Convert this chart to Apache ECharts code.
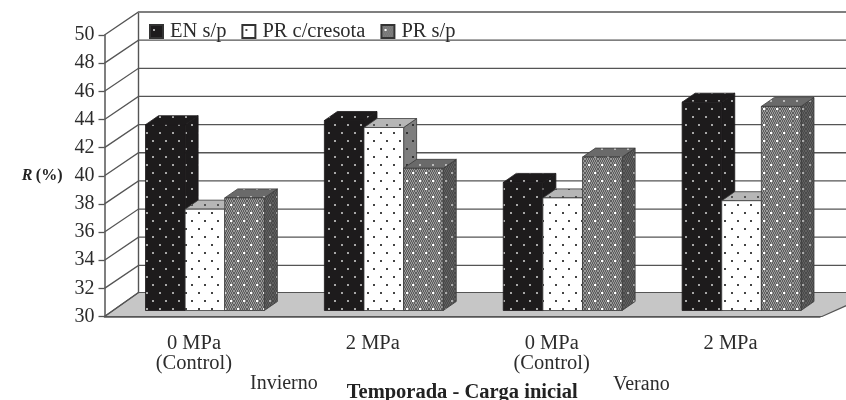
<!DOCTYPE html>
<html>
<head>
<meta charset="utf-8">
<style>html,body{margin:0;padding:0;background:#fff}#c{width:846px;height:400px;filter:blur(0.4px)}</style>
<script src="https://cdn.jsdelivr.net/npm/echarts@6/dist/echarts.min.js"></script>
</head>
<body>
<div id="c"></div>
<script>
const categories = ['0 MPa\n(Control)', '2 MPa', '0 MPa\n(Control)', '2 MPa'];
const enSp = [43.2, 43.5, 39.1, 44.8];
const prCres = [37.2, 43.0, 38.0, 37.8];
const prSp = [38.0, 40.1, 40.9, 44.5];
const seriesNames = ['EN s/p', 'PR c/cresota', 'PR s/p'];
const yTicks = [30, 32, 34, 36, 38, 40, 42, 44, 46, 48, 50];
const seasonLabels = ['Invierno', 'Verano'];
const xTitle = 'Temporada - Carga inicial';

const SERIF = '"Liberation Serif", serif';
const TEXT = '#2c2c2c';
const LINE = '#555';

function tile(bg, dot, checker) {
  const c = document.createElement('canvas');
  c.width = 13; c.height = 16;
  const g = c.getContext('2d');
  g.fillStyle = bg; g.fillRect(0, 0, 13, 16);
  if (checker) {
    g.fillStyle = checker;
    for (let y = 0; y < 16; y += 2) for (let x = 0; x < 13; x++)
      if (x % 2 === (y / 2) % 2) g.fillRect(x, y, 1, 2);
  }
  g.fillStyle = dot;
  g.fillRect(3, 4, 2, 2);
  g.fillRect(9, 12, 2, 2);
  return { image: c, repeat: 'repeat' };
}

const faces = [
  { front: tile('#1d1b1c', '#a8a8a8'), top: tile('#1d1b1c', '#a8a8a8'), side: tile('#1d1b1c', '#a8a8a8'), edge: '#1d1b1c' },
  { front: tile('#ffffff', '#444444'), top: tile('#b6b6b6', '#555555'), side: tile('#7e7e7e', '#333333'), edge: '#3a3a3a' },
  { front: tile('#9a9a9a', '#ffffff', '#5c5c5c'), top: tile('#6a6a6a', '#bbbbbb'), side: tile('#5f5f5f', '#aaaaaa', '#4a4a4a'), edge: '#3a3a3a' }
];

// pseudo-3D projection constants (px)
const WALL_DX = 34, WALL_DY = 23;
const LIFT_DX = 11, LIFT_DY = 6;
const BAR_DX = 13, BAR_DY = 9;
const BAR_FRACTION = 0.2215;

function renderWalls(params, api) {
  const cs = params.coordSys;
  const v = api.value(0);
  const y = api.coord([0, v])[1];
  const x0 = cs.x, bx = x0 + WALL_DX;
  const children = [];
  if (v === yTicks[0]) {
    const by = y - WALL_DY - 1;
    children.push({
      type: 'polygon', z2: 0,
      shape: { points: [[x0, y], [bx, by], [cs.x + cs.width + 40, by], [cs.x + cs.width + 40, by + 7], [cs.x + cs.width + 2, y]] },
      style: { fill: '#c6c6c6', stroke: LINE, lineWidth: 1.2 }
    });
    const top = api.coord([0, yTicks[yTicks.length - 1]])[1] - WALL_DY + 1;
    children.push({
      type: 'line', z2: 1,
      shape: { x1: bx, y1: by, x2: bx, y2: top },
      style: { stroke: LINE, lineWidth: 1.4 }
    });
    children.push({
      type: 'line', z2: 1,
      shape: { x1: x0, y1: y, x2: bx, y2: by },
      style: { stroke: LINE, lineWidth: 1.2 }
    });
  } else {
    children.push({
      type: 'polyline', z2: 1,
      shape: { points: [[x0, y], [bx, y - WALL_DY], [cs.x + cs.width + 40, y - WALL_DY]] },
      style: { fill: 'none', stroke: LINE, lineWidth: 1.3 }
    });
  }
  return { type: 'group', children };
}

function barRenderer(seriesIdx) {
  return function (params, api) {
    const cat = api.value(0), val = api.value(1);
    const w = api.size([1, 0])[0] * BAR_FRACTION;
    const cx = api.coord([cat, val])[0] + LIFT_DX;
    const x = cx - 1.5 * w + seriesIdx * w;
    const yT = api.coord([cat, val])[1] - LIFT_DY;
    const yB = api.coord([cat, yTicks[0]])[1] - LIFT_DY;
    const f = faces[seriesIdx];
    const edge = { stroke: f.edge, lineWidth: 0.8 };
    return {
      type: 'group',
      children: [
        { type: 'polygon', shape: { points: [[x + w, yT], [x + w + BAR_DX, yT - BAR_DY], [x + w + BAR_DX, yB - BAR_DY], [x + w, yB]] }, style: Object.assign({ fill: f.side }, edge) },
        { type: 'polygon', shape: { points: [[x, yT], [x + BAR_DX, yT - BAR_DY], [x + w + BAR_DX, yT - BAR_DY], [x + w, yT]] }, style: Object.assign({ fill: f.top }, edge) },
        { type: 'rect', shape: { x: x, y: yT, width: w, height: yB - yT }, style: Object.assign({ fill: f.front }, edge) }
      ]
    };
  };
}

const barSeries = [enSp, prCres, prSp].map((vals, i) => ({
  type: 'custom',
  name: seriesNames[i],
  silent: true,
  z: 3,
  itemStyle: { color: faces[i].front, borderColor: '#333', borderWidth: 1 },
  data: vals.map((v, k) => [k, v]),
  encode: { x: 0, y: 1 },
  renderItem: barRenderer(i)
}));

const chart = echarts.init(document.getElementById('c'), null, { renderer: 'canvas' });
chart.setOption({
  animation: false,
  backgroundColor: '#fff',
  grid: { left: 104.5, right: 26, top: 35, bottom: 83.5, containLabel: false, outerBoundsMode: 'none' },
  legend: {
    left: 149, top: 21, itemWidth: 13, itemHeight: 13, itemGap: 15,
    padding: 0,
    data: seriesNames.map(n => ({ name: n, icon: 'rect' })),
    textStyle: { fontFamily: SERIF, fontSize: 20.5, color: TEXT, padding: [0, 0, 0, 2] }
  },
  xAxis: {
    type: 'category', data: categories,
    axisLine: { lineStyle: { color: LINE, width: 1.5 } },
    axisTick: { show: false },
    axisLabel: { fontFamily: SERIF, fontSize: 20.5, color: TEXT, lineHeight: 20, margin: 17, interval: 0 },
    name: xTitle, nameLocation: 'middle', nameGap: 66,
    nameTextStyle: { fontFamily: SERIF, fontSize: 20.5, fontWeight: 'bold', color: '#222' }
  },
  yAxis: {
    type: 'value', min: 30, max: 50, interval: 2,
    axisLine: { show: true, lineStyle: { color: LINE, width: 1.5 } },
    axisTick: { show: true, length: 6, lineStyle: { color: LINE, width: 1.3 } },
    axisLabel: { fontFamily: SERIF, fontSize: 20, color: TEXT, margin: 10, formatter: v => String(v) },
    splitLine: { show: false },
    name: '{i|R} {b|(%)}', nameLocation: 'middle', nameRotate: 0, nameGap: 42,
    nameTextStyle: {
      rich: {
        i: { fontFamily: SERIF, fontSize: 16, fontWeight: 'bold', fontStyle: 'italic', color: '#222' },
        b: { fontFamily: SERIF, fontSize: 16, fontWeight: 'bold', color: '#222' }
      }
    }
  },
  graphic: [
    { type: 'text', left: 250, top: 374, style: { text: seasonLabels[0], font: '20px ' + SERIF, fill: TEXT } },
    { type: 'text', left: 613, top: 375, style: { text: seasonLabels[1], font: '20px ' + SERIF, fill: TEXT } }
  ],
  series: [
    {
      type: 'custom', silent: true, z: 1,
      data: yTicks.map(t => [t]),
      encode: { y: 0 },
      renderItem: renderWalls
    }
  ].concat(barSeries)
});
</script>
</body>
</html>
